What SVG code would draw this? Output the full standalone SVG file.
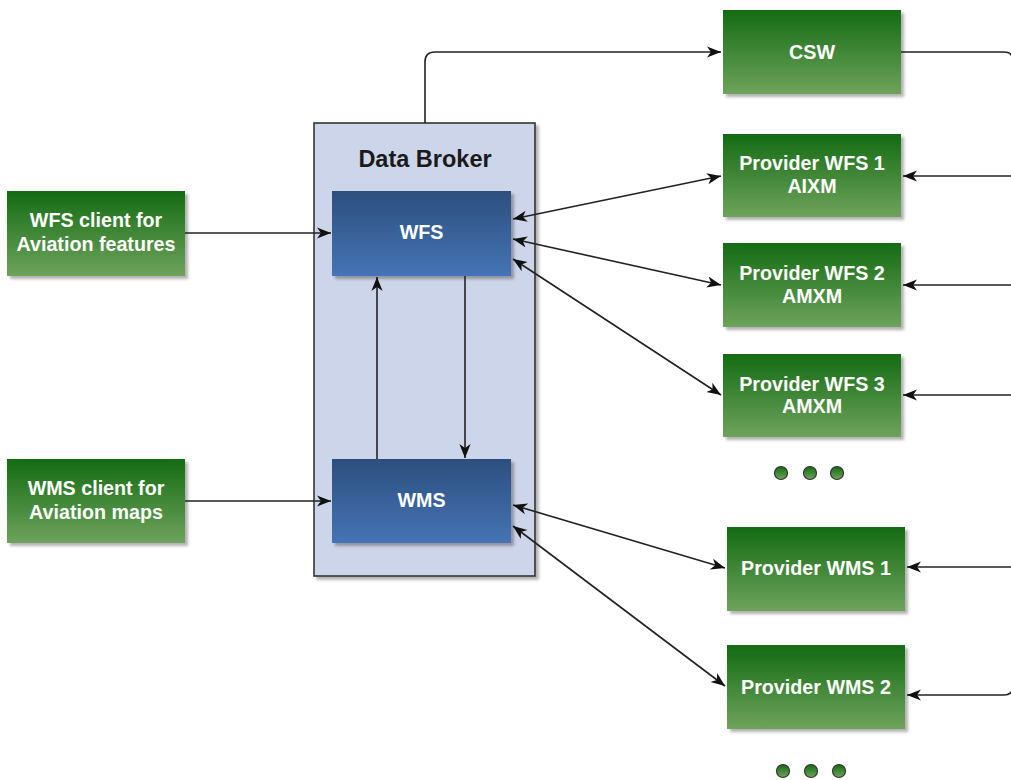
<svg xmlns="http://www.w3.org/2000/svg" width="1011" height="780" viewBox="0 0 1011 780">
<defs>
<linearGradient id="gGreen" x1="0" y1="0" x2="0" y2="1">
<stop offset="0" stop-color="#136B13"/>
<stop offset="1" stop-color="#6EA35C"/>
</linearGradient>
<linearGradient id="gBlue" x1="0" y1="0" x2="0" y2="1">
<stop offset="0" stop-color="#2C4F7E"/>
<stop offset="1" stop-color="#4574B5"/>
</linearGradient>
<filter id="sh" x="-10%" y="-10%" width="130%" height="130%">
<feDropShadow dx="3" dy="3" stdDeviation="1.5" flood-color="#000" flood-opacity="0.3"/>
</filter>
<marker id="ar" viewBox="0 0 10 10" refX="10" refY="5" markerWidth="14" markerHeight="14" markerUnits="userSpaceOnUse" orient="auto-start-reverse">
<path d="M0,1 L10,5 L0,9 L2.8,5 Z" fill="#111"/>
</marker>
<style>
.gbox{fill:url(#gGreen);filter:url(#sh);}
.bbox{fill:url(#gBlue);filter:url(#sh);}
.t{font-family:"Liberation Sans",Arial,sans-serif;font-weight:bold;font-size:19.7px;fill:#fff;text-anchor:middle;}
.c{fill:none;stroke:#222;stroke-width:1.6;}
.dot{fill:url(#gGreen);stroke:#333;stroke-width:1.2;}
</style>
</defs>

<g id="data-broker">
<rect x="314" y="123" width="221" height="453" fill="#CDD5EA" stroke="#333" stroke-width="1.6" filter="url(#sh)"/>
<text x="425" y="167" font-family="'Liberation Sans',Arial,sans-serif" font-weight="bold" font-size="23.5px" fill="#1a1a1a" text-anchor="middle">Data Broker</text>
</g>

<g id="wfs">
<rect class="bbox" x="332" y="191" width="179" height="85"/>
<text class="t" x="421.5" y="239">WFS</text>
</g>

<g id="wms">
<rect class="bbox" x="332" y="459" width="179" height="84"/>
<text class="t" x="421.5" y="507">WMS</text>
</g>

<g id="wfs-client">
<rect class="gbox" x="7" y="191" width="178" height="85"/>
<text class="t" x="96" y="227">WFS client for</text>
<text class="t" x="96" y="251">Aviation features</text>
</g>

<g id="wms-client">
<rect class="gbox" x="7" y="459" width="178" height="84"/>
<text class="t" x="96" y="495">WMS client for</text>
<text class="t" x="96" y="519">Aviation maps</text>
</g>

<g id="csw">
<rect class="gbox" x="723" y="10" width="178" height="84"/>
<text class="t" x="812" y="59">CSW</text>
</g>

<g id="provider-wfs-1">
<rect class="gbox" x="723" y="134" width="178" height="83"/>
<text class="t" x="812" y="170">Provider WFS 1</text>
<text class="t" x="812" y="193">AIXM</text>
</g>

<g id="provider-wfs-2">
<rect class="gbox" x="723" y="243" width="178" height="84"/>
<text class="t" x="812" y="280">Provider WFS 2</text>
<text class="t" x="812" y="303">AMXM</text>
</g>

<g id="provider-wfs-3">
<rect class="gbox" x="723" y="354" width="178" height="83"/>
<text class="t" x="812" y="391">Provider WFS 3</text>
<text class="t" x="812" y="413">AMXM</text>
</g>

<g id="more-wfs">
<circle class="dot" cx="781" cy="473" r="6.5"/>
<circle class="dot" cx="810" cy="473" r="6.5"/>
<circle class="dot" cx="837" cy="473" r="6.5"/>
</g>

<g id="provider-wms-1">
<rect class="gbox" x="727" y="527" width="178" height="84"/>
<text class="t" x="816" y="575">Provider WMS 1</text>
</g>

<g id="provider-wms-2">
<rect class="gbox" x="727" y="645" width="178" height="84"/>
<text class="t" x="816" y="694">Provider WMS 2</text>
</g>

<g id="more-wms">
<circle class="dot" cx="783" cy="771" r="6.5"/>
<circle class="dot" cx="811" cy="771" r="6.5"/>
<circle class="dot" cx="839" cy="771" r="6.5"/>
</g>

<g id="connectors">
<path class="c" d="M425,123 V62 Q425,52 435,52 H721" marker-end="url(#ar)"/>
<path class="c" d="M901,52 H1004 Q1013,52 1013,61 V686 Q1013,695 1004,695 H907" marker-end="url(#ar)"/>
<path class="c" d="M1013,176 H903" marker-end="url(#ar)"/>
<path class="c" d="M1013,285 H903" marker-end="url(#ar)"/>
<path class="c" d="M1013,395 H903" marker-end="url(#ar)"/>
<path class="c" d="M1013,567 H907" marker-end="url(#ar)"/>
<path class="c" d="M185,233 H331" marker-end="url(#ar)"/>
<path class="c" d="M185,501 H331" marker-end="url(#ar)"/>
<path class="c" d="M377,459 V277" marker-end="url(#ar)"/>
<path class="c" d="M465,276 V458" marker-end="url(#ar)"/>
<path class="c" d="M513,219 L721,176" marker-start="url(#ar)" marker-end="url(#ar)"/>
<path class="c" d="M513,239 L721,285" marker-start="url(#ar)" marker-end="url(#ar)"/>
<path class="c" d="M513,259 L721,395" marker-start="url(#ar)" marker-end="url(#ar)"/>
<path class="c" d="M513,505 L725,568" marker-start="url(#ar)" marker-end="url(#ar)"/>
<path class="c" d="M513,526 L725,686" marker-start="url(#ar)" marker-end="url(#ar)"/>
</g>
</svg>
